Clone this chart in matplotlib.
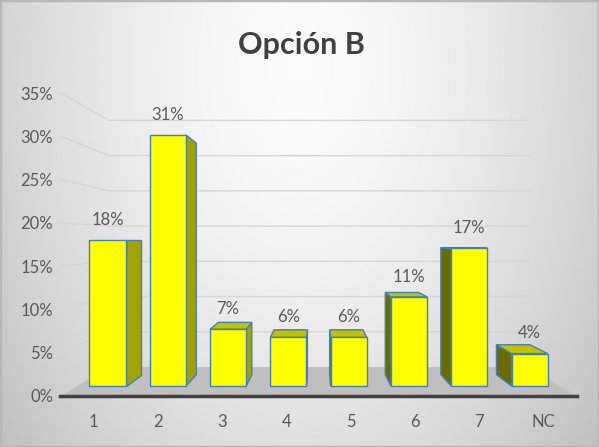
import matplotlib
matplotlib.use("Agg")
import matplotlib.pyplot as plt
import numpy as np

### data ###
categories = ["1", "2", "3", "4", "5", "6", "7", "NC"]
values = [18, 31, 7, 6, 6, 11, 17, 4]  # percent
y_ticks = [0, 5, 10, 15, 20, 25, 30, 35]

### look ###
plt.rcParams['font.family'] = ['Lato', 'DejaVu Sans']
W, H = 599, 447
VX, VY = 3.5, 18.0       # vanishing point (category units, percent)
K_FRONT = 1.065          # plane of axis line / labels
K_BACK = 0.922           # back face of the bars
K_WALL = 0.87            # back wall and floor back edge
BAR_W = 0.6
TEXT = '#595959'


def persp(x, y, k):  # push a point of the front plane to depth k
  return VX + k * (np.asarray(x) - VX), VY + k * (np.asarray(y) - VY)


fig = plt.figure(figsize=(W / 100, H / 100), dpi=100)

# background gradient
bg = fig.add_axes([0, 0, 1, 1], zorder=-10)
gx, gy = np.meshgrid(np.linspace(-1, 1, 300), np.linspace(0, 1, 220))
r = np.sqrt((gx * 0.95) ** 2 + ((gy - 0.15) * 0.9) ** 2)
bg.imshow(0.985 - 0.17 * r ** 1.6, cmap='gray', vmin=0, vmax=1, aspect='auto',
          extent=[0, 1, 0, 1], origin='upper')
bg.set_xlim(0, 1)
bg.set_ylim(0, 1)
bg.axis('off')
bg.add_patch(plt.Rectangle((0, 0), 1, 1, fill=False, ec='#b8b8b8', lw=2.5,
                           transform=bg.transAxes))

# main axes, x in category units, y in percent (0 = bar bottom)
left, right, bottom, top = 60, 577, 396, 80
ax = fig.add_axes([left / W, 1 - bottom / H, (right - left) / W, (bottom - top) / H])
ax.patch.set_alpha(0)
ax.set_xlim((left - 107.5) / 60.3, (right - 107.5) / 60.3)
ax.set_ylim((386 - bottom) / 8.1, (386 - top) / 8.1)

x = np.arange(len(values))
vals = np.array(values, dtype=float)
u0, u1 = -0.5, len(values) - 0.5

# floor
fx0, fy0 = persp([u0, u1], [0, 0], K_FRONT)
bx0, by0 = persp([u1, u0], [0, 0], K_WALL)
ax.fill(list(fx0) + list(bx0), list(fy0) + list(by0), color='#bfbfbf', lw=0, zorder=1)

# gridlines: slanted on the left wall, flat on the back wall
for v in y_ticks[1:]:
  xa, ya = persp([u0, u0, u1], [v, v, v], np.array([K_FRONT, K_WALL, K_WALL]))
  ax.plot(xa, ya, color='#d6d6d6', lw=1, zorder=0.5)

# bars: side and top faces first
for xi, v in zip(x, vals):
  xl, xr = xi - BAR_W / 2, xi + BAR_W / 2
  if xr < VX:   # right side visible
    sx, sy = persp([xr, xr], [0, v], K_BACK)
    ax.fill([xr, xr, sx[1], sx[0]], [0, v, sy[1], sy[0]], fc='#a3a300',
            ec='#3f7fbf', lw=1, zorder=2)
  if xl > VX:   # left side visible
    sx, sy = persp([xl, xl], [0, v], K_BACK)
    ax.fill([xl, xl, sx[1], sx[0]], [0, v, sy[1], sy[0]], fc='#6b6b00',
            ec='#3f7fbf', lw=1, zorder=2)
  if v < VY:    # top face visible
    tx, ty = persp([xl, xr], [v, v], K_BACK)
    ax.fill([xl, xr, tx[1], tx[0]], [v, v, ty[1], ty[0]], fc='#c2c200',
            ec='#3f7fbf', lw=1, zorder=2)

ax.bar(x, vals, width=BAR_W, color='#ffff00', edgecolor='#3f7fbf', lw=1, zorder=3)

for xi, v in zip(x, vals):
  ax.text(xi, v + 2.5, f"{int(v)}%", ha='center', va='center', fontsize=12,
          color=TEXT, zorder=4)

# ticks in the front plane
tx, _ = persp(x, 0, K_FRONT)
ax.set_xticks(tx, categories)
_, ty = persp(0, np.array(y_ticks), K_FRONT)
ax.set_yticks(ty, [f"{v}%" for v in y_ticks])
ax.tick_params(axis='x', length=0, pad=13, labelsize=12, labelcolor=TEXT)
ax.tick_params(axis='y', length=0, pad=5, labelsize=12, labelcolor=TEXT)
for s in ['top', 'right', 'left']:
  ax.spines[s].set_visible(False)
ax.spines['bottom'].set_color('#404040')
ax.spines['bottom'].set_linewidth(2.5)

fig.text(301 / W, 1 - 45 / H, "Opción B", ha='center', va='center', fontsize=22,
         fontweight='bold', color='#404040')

fig.savefig('out.png', dpi=100)
